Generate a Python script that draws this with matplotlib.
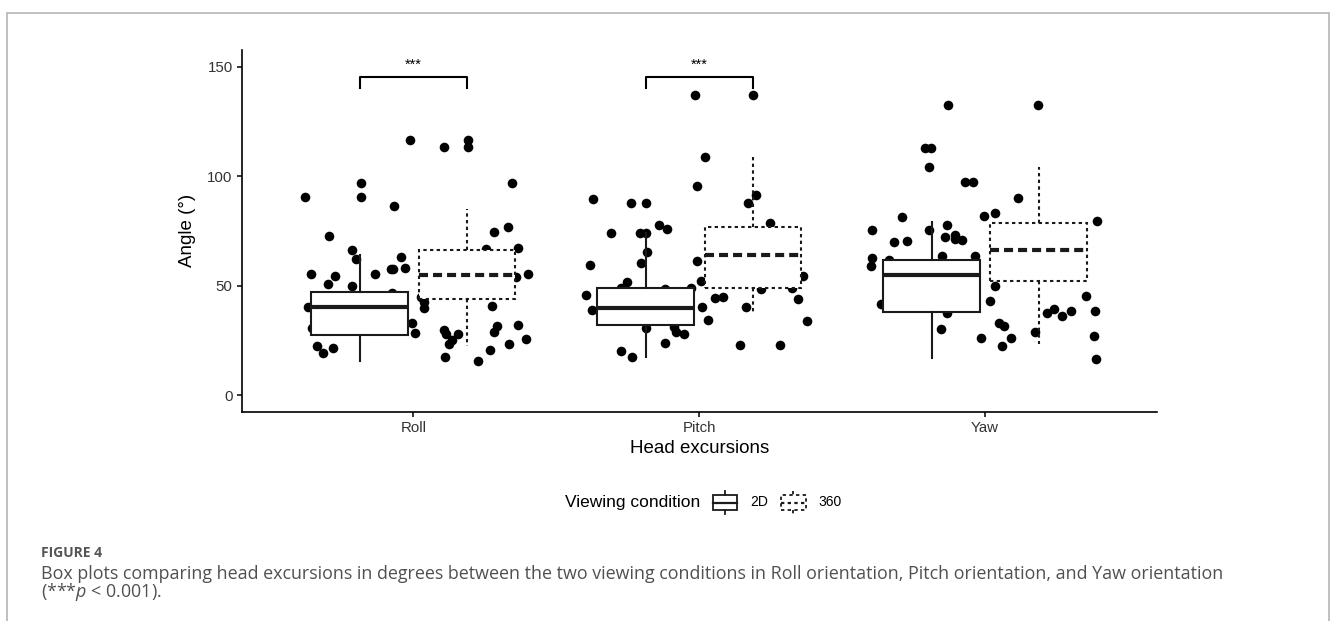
import numpy as np
import matplotlib.pyplot as plt
from matplotlib.patches import Rectangle
from matplotlib.lines import Line2D

plt.rcParams['font.family'] = ['Liberation Sans', 'DejaVu Sans']
plt.rcParams['lines.scale_dashes'] = False
plt.rcParams['mathtext.fontset'] = 'custom'
plt.rcParams['mathtext.it'] = 'Open Sans:italic'
plt.rcParams['mathtext.rm'] = 'Open Sans'

W, H = 1330, 621

categories = ['Roll', 'Pitch', 'Yaw']
conditions = ['2D', '360']

# box stats
q1_2d = [27.4, 31.9, 38.0]
med_2d = [40.2, 39.7, 54.9]
q3_2d = [47.2, 48.8, 61.6]
lo_2d = [15.6, 17.2, 16.7]
hi_2d = [63.8, 74.2, 79.0]

q1_360 = [44.1, 48.9, 52.3]
med_360 = [54.9, 63.8, 66.1]
q3_360 = [66.4, 76.6, 78.6]
lo_360 = [22.5, 36.9, 23.3]
hi_360 = [85.1, 108.7, 104.1]

# jittered points (offset from category centre, angle)
roll_jit = [-0.380, -0.368, -0.353, -0.358, -0.338, -0.317, -0.279, -0.296, -0.297, -0.275,
            -0.216, -0.202, -0.216, -0.182, -0.182, -0.135, -0.068, -0.078, -0.070, -0.043,
            -0.028, -0.075, -0.010, -0.005, 0.007, 0.037, 0.037, 0.026, 0.107, 0.106,
            0.113, 0.134, 0.125, 0.157, 0.111, 0.190, 0.190, 0.225, 0.268, 0.277,
            0.282, 0.293, 0.284, 0.330, 0.346, 0.366, 0.359, 0.335, 0.366, 0.396,
            0.402, 0.253]
roll_y = [90.3, 40.1, 30.6, 55.5, 22.5, 19.4, 21.3, 72.5, 50.6, 54.4,
          66.4, 62.2, 50.0, 97.0, 90.3, 55.3, 86.5, 57.5, 57.5, 62.9,
          58.1, 46.8, 116.4, 32.8, 28.4, 42.3, 39.8, 45.0, 113.4, 29.5,
          28.1, 25.1, 23.1, 27.7, 17.6, 116.4, 113.4, 15.6, 20.8, 40.8,
          29.0, 31.5, 74.6, 76.6, 96.8, 67.2, 53.7, 23.1, 32.2, 25.7,
          55.5, 66.9]

pitch_jit = [-0.373, -0.382, -0.395, -0.374, -0.309, -0.274, -0.234, -0.252, -0.240, -0.185,
             -0.207, -0.185, -0.181, -0.202, -0.185, -0.275, -0.142, -0.113, -0.121, -0.080,
             -0.054, -0.089, -0.118, -0.030, -0.015, 0.021, -0.006, -0.009, 0.007, 0.010,
             0.030, 0.055, 0.083, 0.189, 0.197, 0.169, 0.246, 0.165, 0.144, 0.281,
             0.216, 0.325, 0.363, 0.345, 0.378]
pitch_y = [89.4, 59.4, 45.9, 38.8, 73.9, 20.2, 17.2, 51.8, 87.9, 87.9,
           74.2, 74.2, 65.2, 60.3, 30.6, 48.8, 77.5, 76.0, 23.6, 28.6,
           27.8, 31.1, 48.6, 48.8, 137.1, 108.7, 95.4, 61.4, 52.0, 40.0,
           34.3, 44.5, 45.0, 137.1, 91.3, 87.9, 78.7, 40.1, 22.9, 22.8,
           48.3, 49.1, 54.3, 43.8, 33.7]

yaw_jit = [-0.394, -0.397, -0.399, -0.363, -0.317, -0.273, -0.291, -0.212, -0.188, -0.196,
           -0.197, -0.131, -0.133, -0.142, -0.104, -0.106, -0.080, -0.150, -0.035, -0.132,
           -0.153, -0.069, -0.043, -0.014, -0.003, 0.035, 0.035, 0.017, 0.047, 0.067,
           0.059, 0.092, 0.114, 0.185, 0.176, 0.216, 0.240, 0.269, 0.302, 0.354,
           0.384, 0.381, 0.388, 0.392, -0.336]
yaw_y = [75.4, 62.8, 58.8, 41.6, 69.9, 70.4, 81.3, 112.9, 112.9, 104.0,
         75.4, 132.7, 77.7, 72.4, 73.3, 71.5, 70.8, 63.4, 63.7, 37.4,
         30.0, 97.4, 97.4, 26.0, 81.9, 83.1, 49.8, 43.0, 32.7, 31.6,
         22.3, 26.0, 90.1, 132.7, 28.9, 37.3, 39.5, 36.3, 38.2, 45.3,
         38.2, 27.2, 16.4, 79.3, 61.7]

sig_pairs = [0, 1]  # categories with *** bracket
sig_label = '***'

fig = plt.figure(figsize=(W / 100, H / 100), dpi=100)
ax = fig.add_axes([241.7 / W, (H - 411.7) / H, 915 / W, 361.7 / H])

# points under boxes
for i, (jit, yv) in enumerate([(roll_jit, roll_y), (pitch_jit, pitch_y), (yaw_jit, yaw_y)]):
    ax.scatter(i + 1 + np.array(jit), yv, s=48, color='black', linewidths=0, zorder=2)

dot = (0, (2.4, 2.4))
dash = (0, (6.5, 3.6))
pos = np.arange(1, 4)
styles = {
    '2D': dict(ls='-', mls='-', off=-0.1875),
    '360': dict(ls=dot, mls=dash, off=0.1875),
}
stats_all = {
    '2D': (lo_2d, q1_2d, med_2d, q3_2d, hi_2d),
    '360': (lo_360, q1_360, med_360, q3_360, hi_360),
}
for cond in conditions:
    lo, q1, med, q3, hi = stats_all[cond]
    st = styles[cond]
    stats = [dict(whislo=lo[k], q1=q1[k], med=med[k], q3=q3[k], whishi=hi[k], fliers=[])
             for k in range(3)]
    ax.bxp(stats, positions=pos + st['off'], widths=0.3375, patch_artist=True,
           showcaps=False, showfliers=False, manage_ticks=False, zorder=3,
           boxprops=dict(facecolor='white', edgecolor='#1a1a1a', linewidth=1.5, linestyle=st['ls']),
           whiskerprops=dict(color='#1a1a1a', linewidth=1.5, linestyle=st['ls']),
           medianprops=dict(color='#1a1a1a', linewidth=3.0, linestyle=st['mls'], solid_capstyle='butt'))

# significance brackets
for k in sig_pairs:
    x0, x1 = k + 1 - 0.1875, k + 1 + 0.1875
    ax.plot([x0, x0, x1, x1], [140.3, 145.3, 145.3, 140.3], color='black', lw=1.5, zorder=4)
    ax.text(k + 1, 151, sig_label, ha='center', va='center', fontsize=10.5)

ax.set_xlim(0.4, 3.6)
ax.set_ylim(-7.6, 157.6)
ax.set_xticks(pos)
ax.set_xticklabels(categories)
ax.set_yticks([0, 50, 100, 150])
for s in ['top', 'right']:
    ax.spines[s].set_visible(False)
for s in ['left', 'bottom']:
    ax.spines[s].set_linewidth(1.2)
ax.tick_params(length=3.5, width=1.1, labelsize=10.8, labelcolor='#333333', pad=3)
ax.set_ylabel('Angle (°)', fontsize=13.5, labelpad=8)
ax.set_xlabel('Head excursions', fontsize=13.5, labelpad=4)


def fx(x):
    return x / W


def fy(y):
    return 1 - y / H


# legend
fig.text(fx(565), fy(502), 'Viewing condition', fontsize=12.5, va='center', ha='left')
key_x = {'2D': 725, '360': 793.4}
lab_x = {'2D': 750, '360': 818}
for cond in conditions:
    st = styles[cond]
    cx = key_x[cond]
    fig.add_artist(Rectangle((fx(cx - 12.3), fy(510)), 24.6 / W, 15 / H, transform=fig.transFigure,
                             facecolor='white', edgecolor='#1a1a1a', lw=1.3, ls=st['ls']))
    fig.add_artist(Line2D([fx(cx), fx(cx)], [fy(490.5), fy(495)], transform=fig.transFigure,
                          color='#1a1a1a', lw=1.3, ls=st['ls']))
    fig.add_artist(Line2D([fx(cx), fx(cx)], [fy(510), fy(514)], transform=fig.transFigure,
                          color='#1a1a1a', lw=1.3, ls=st['ls']))
    fig.add_artist(Line2D([fx(cx - 12.3), fx(cx + 12.3)], [fy(502.5), fy(502.5)],
                          transform=fig.transFigure, color='#1a1a1a', lw=1.6,
                          ls='-' if cond == '2D' else (0, (2.4, 2.4))))
    fig.text(fx(lab_x[cond]), fy(502), cond, fontsize=10, va='center', ha='left')

# page frame and caption
fig.add_artist(Rectangle((fx(7), -0.05), (1322) / W, 1.05 - 13 / H, transform=fig.transFigure,
                         facecolor='none', edgecolor='#b5b5b5', lw=1.2))
fig.text(fx(41), fy(553), 'FIGURE 4', fontsize=10, fontweight='bold', color='#555555',
         family='Open Sans', va='center')
fig.text(fx(41), fy(574), 'Box plots comparing head excursions in degrees between the two viewing '
         'conditions in Roll orientation, Pitch orientation, and Yaw orientation',
         fontsize=12.9, color='#505050', family='Open Sans', va='center')
fig.text(fx(41), fy(592), r'(***$p$ < 0.001).', fontsize=12.9, color='#505050',
         family='Open Sans', va='center')

fig.savefig('out.png', dpi=100)
